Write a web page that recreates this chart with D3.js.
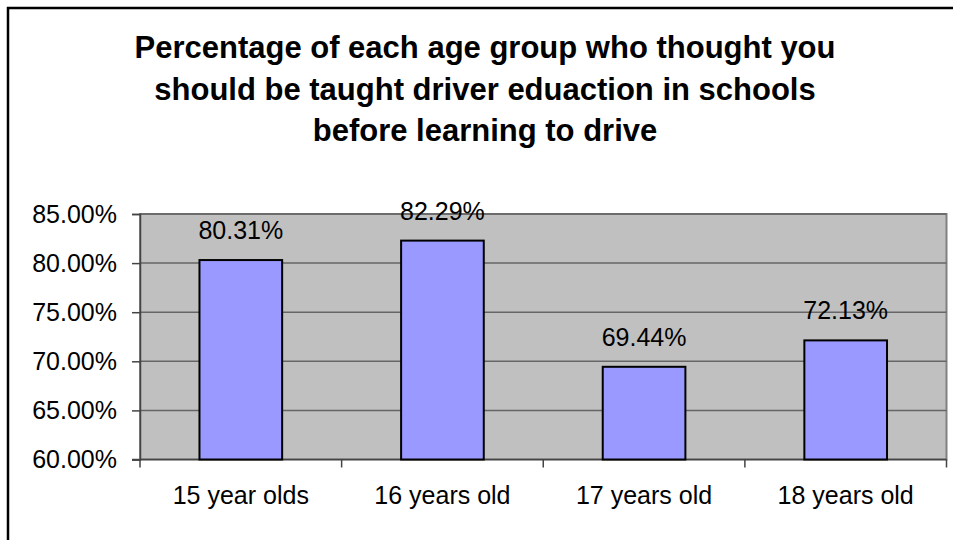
<!DOCTYPE html>
<html lang="en">
	<head>
		<meta charset="UTF-8" />
		<title>Driver education survey</title>
		<script src="https://d3js.org/d3.v7.min.js"></script>
		<style>
			body {
				margin: 0;
				background: #fff;
			}
			svg {
				display: block;
			}
			text {
				font-family: 'Liberation Sans', Arial, sans-serif;
				fill: #000;
			}
		</style>
	</head>
	<body>
		<svg width="953" height="540"></svg>
		<script>
			const categories = ['15 year olds', '16 years old', '17 years old', '18 years old'];
			const values = [0.8031, 0.8229, 0.6944, 0.7213];
			const yTicks = [0.6, 0.65, 0.7, 0.75, 0.8, 0.85];
			const titleLines = [
				'Percentage of each age group who thought you',
				'should be taught driver eduaction in schools',
				'before learning to drive'
			];

			const svg = d3.select('svg');
			const plot = { left: 140, right: 946.5, top: 214, bottom: 459.5 };

			// outer chart border (runs off the right and bottom edges)
			svg.append('rect')
				.attr('x', 8)
				.attr('y', 8)
				.attr('width', 960)
				.attr('height', 560)
				.attr('fill', 'none')
				.attr('stroke', '#000')
				.attr('stroke-width', 2.5);

			svg.append('g')
				.selectAll('text')
				.data(titleLines)
				.enter()
				.append('text')
				.attr('x', 485)
				.attr('y', (d, i) => 58 + i * 41.5)
				.attr('text-anchor', 'middle')
				.attr('font-size', 31)
				.attr('font-weight', 'bold')
				.text((d) => d);

			const x = d3.scaleBand()
				.domain(categories)
				.range([plot.left, plot.right])
				.paddingInner(0.59)
				.paddingOuter(0.295);

			const y = d3.scaleLinear()
				.domain([0.6, 0.85])
				.range([plot.bottom, plot.top]);

			// plot background
			svg.append('rect')
				.attr('x', plot.left)
				.attr('y', plot.top)
				.attr('width', plot.right - plot.left)
				.attr('height', plot.bottom - plot.top)
				.attr('fill', '#c0c0c0')
				.attr('stroke', '#808080')
				.attr('stroke-width', 2);

			// gridlines
			svg.append('g')
				.selectAll('line')
				.data(yTicks.slice(1))
				.enter()
				.append('line')
				.attr('x1', plot.left)
				.attr('x2', plot.right)
				.attr('y1', (d) => y(d))
				.attr('y2', (d) => y(d))
				.attr('stroke', '#666')
				.attr('stroke-width', 1.5);

			// y axis
			const yAxis = svg.append('g')
				.attr('transform', `translate(${plot.left},0)`)
				.call(d3.axisLeft(y).tickValues(yTicks).tickFormat(d3.format('.2%')).tickSize(8).tickPadding(15));
			yAxis.select('.domain').attr('stroke', '#444').attr('stroke-width', 1.5);
			yAxis.selectAll('.tick line').attr('stroke', '#444').attr('stroke-width', 1.5);
			yAxis.selectAll('.tick text')
				.attr('font-size', 25)
				.attr('font-family', "'Liberation Sans', Arial, sans-serif")
				.attr('fill', '#000');

			// x axis baseline and ticks at category boundaries
			const step = x.step();
			const bounds = d3.range(categories.length + 1).map((i) => plot.left + i * step);
			svg.append('line')
				.attr('x1', plot.left - 8)
				.attr('x2', plot.right)
				.attr('y1', plot.bottom)
				.attr('y2', plot.bottom)
				.attr('stroke', '#444')
				.attr('stroke-width', 1.5);
			svg.append('g')
				.selectAll('line')
				.data(bounds)
				.enter()
				.append('line')
				.attr('x1', (d) => d)
				.attr('x2', (d) => d)
				.attr('y1', plot.bottom)
				.attr('y2', plot.bottom + 8)
				.attr('stroke', '#444')
				.attr('stroke-width', 1.5);

			svg.append('g')
				.selectAll('text')
				.data(categories)
				.enter()
				.append('text')
				.attr('x', (d) => x(d) + x.bandwidth() / 2)
				.attr('y', 504)
				.attr('text-anchor', 'middle')
				.attr('font-size', 25)
				.text((d) => d);

			// bars
			svg.append('g')
				.selectAll('rect')
				.data(values)
				.enter()
				.append('rect')
				.attr('x', (d, i) => x(categories[i]))
				.attr('y', (d) => y(d))
				.attr('width', x.bandwidth())
				.attr('height', (d) => plot.bottom - y(d))
				.attr('fill', '#9999ff')
				.attr('stroke', '#000')
				.attr('stroke-width', 2);

			// value labels
			svg.append('g')
				.selectAll('text')
				.data(values)
				.enter()
				.append('text')
				.attr('x', (d, i) => x(categories[i]) + x.bandwidth() / 2)
				.attr('y', (d) => y(d) - 21)
				.attr('text-anchor', 'middle')
				.attr('font-size', 25)
				.text((d) => d3.format('.2%')(d));
		</script>
	</body>
</html>
